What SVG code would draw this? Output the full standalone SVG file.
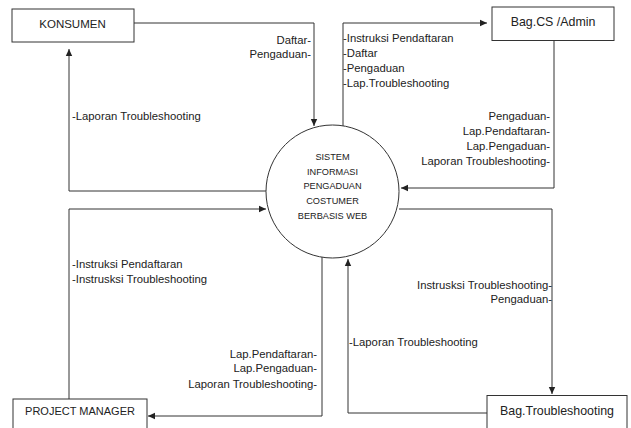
<svg xmlns="http://www.w3.org/2000/svg" width="631" height="428" viewBox="0 0 631 428">
  <style>
    .box { fill: #ffffff; stroke: #333333; stroke-width: 1; }
    .flow { fill: none; stroke: #333333; stroke-width: 1; marker-end: url(#arrow); }
    text { font-family: "Liberation Sans", Arial, sans-serif; fill: #222222; }
    .lbl { font-size: 11.3px; }
    .node { font-size: 11.5px; text-anchor: middle; }
    .mixed { font-size: 12.4px; }
    .proc { font-size: 9.2px; text-anchor: middle; }
    .r { text-anchor: end; }
  </style>
  <defs>
    <marker id="arrow" markerUnits="userSpaceOnUse" markerWidth="8" markerHeight="8" refX="7" refY="4" orient="auto">
      <path d="M0,0.8 L7,4 L0,7.2 Z" fill="#222222"/>
    </marker>
  </defs>
  <rect width="631" height="428" fill="#ffffff"/>

  <!-- data flows -->
  <g id="connectors">
    <path class="flow" d="M134,23 H314 V126"/>
    <path class="flow" d="M266,191 H69 V49"/>
    <path class="flow" d="M69,399 V209 H266"/>
    <path class="flow" d="M322,257 V416 H148"/>
    <path class="flow" d="M343,126 V23 H487"/>
    <path class="flow" d="M554,40 V188 H401"/>
    <path class="flow" d="M399,209 H552 V394"/>
    <path class="flow" d="M487,413 H348 V259"/>

    <text class="lbl r" x="311" y="43.5">Daftar-</text>
    <text class="lbl r" x="311" y="58">Pengaduan-</text>
    <text class="lbl" x="72" y="120">-Laporan Troubleshooting</text>

    <text class="lbl" x="343" y="42">-Instruksi Pendaftaran</text>
    <text class="lbl" x="343" y="57">-Daftar</text>
    <text class="lbl" x="343" y="72">-Pengaduan</text>
    <text class="lbl" x="343" y="87">-Lap.Troubleshooting</text>

    <text class="lbl r" x="550" y="119.5">Pengaduan-</text>
    <text class="lbl r" x="550" y="135">Lap.Pendaftaran-</text>
    <text class="lbl r" x="550" y="150">Lap.Pengaduan-</text>
    <text class="lbl r" x="550" y="165">Laporan Troubleshooting-</text>

    <text class="lbl" x="72" y="267.5">-Instruksi Pendaftaran</text>
    <text class="lbl" x="72" y="282.5">-Instrusksi Troubleshooting</text>

    <text class="lbl r" x="317" y="357.5">Lap.Pendaftaran-</text>
    <text class="lbl r" x="317" y="372">Lap.Pengaduan-</text>
    <text class="lbl r" x="317" y="387.5">Laporan Troubleshooting-</text>

    <text class="lbl r" x="552" y="289">Instrusksi Troubleshooting-</text>
    <text class="lbl r" x="552" y="303">Pengaduan-</text>
    <text class="lbl" x="349" y="346">-Laporan Troubleshooting</text>
  </g>

  <!-- process -->
  <g id="sistem">
    <circle class="box" cx="332.5" cy="191.5" r="66.5"/>
    <text class="proc" x="332.5" y="159.5">SISTEM</text>
    <text class="proc" x="332.5" y="174.5">INFORMASI</text>
    <text class="proc" x="332.5" y="189">PENGADUAN</text>
    <text class="proc" x="332.5" y="203.5">COSTUMER</text>
    <text class="proc" x="332.5" y="218.5">BERBASIS WEB</text>
  </g>

  <!-- external entities -->
  <g id="konsumen">
    <rect class="box" x="12" y="9" width="122" height="33"/>
    <text class="node" x="72.5" y="27.5">KONSUMEN</text>
  </g>
  <g id="bag-cs-admin">
    <rect class="box" x="492" y="7" width="122" height="33.5"/>
    <text class="node mixed" x="553" y="25.5">Bag.CS /Admin</text>
  </g>
  <g id="project-manager">
    <rect class="box" x="13" y="399" width="134" height="40"/>
    <text class="node" x="80" y="415" style="font-size:11px">PROJECT MANAGER</text>
  </g>
  <g id="bag-troubleshooting">
    <rect class="box" x="487" y="395.5" width="140" height="40"/>
    <text class="node mixed" x="557" y="414.5">Bag.Troubleshooting</text>
  </g>
</svg>
